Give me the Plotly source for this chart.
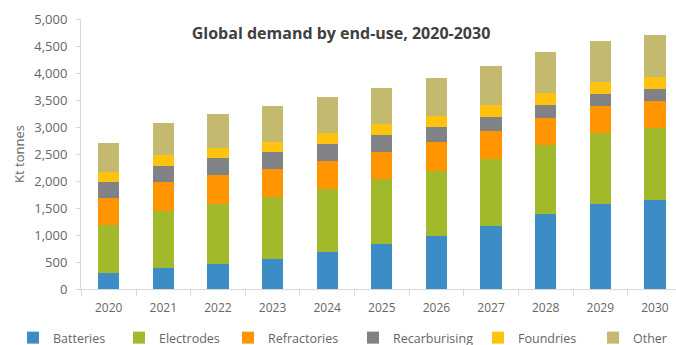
import plotly.graph_objects as go

years = ["2020", "2021", "2022", "2023", "2024", "2025", "2026", "2027", "2028", "2029", "2030"]
batteries = [300, 380, 460, 560, 685, 835, 975, 1160, 1380, 1580, 1655]
electrodes = [885, 1070, 1110, 1135, 1165, 1200, 1215, 1255, 1280, 1310, 1325]
refractories = [500, 525, 540, 530, 525, 510, 530, 520, 505, 505, 495]
recarburising = [300, 310, 310, 310, 315, 305, 280, 255, 250, 220, 235]
foundries = [175, 190, 200, 195, 200, 200, 195, 210, 215, 215, 215]
other = [545, 605, 615, 650, 660, 680, 715, 730, 750, 765, 785]

series = [
    ("Batteries", batteries, "#3c8dc5"),
    ("Electrodes", electrodes, "#a2b92b"),
    ("Refractories", refractories, "#ff9500"),
    ("Recarburising", recarburising, "#808286"),
    ("Foundries", foundries, "#ffc20e"),
    ("Other", other, "#c3b96f"),
]
# legend entry positions (left of swatch, px)
legend_left = [32, 138, 247, 372, 497, 612]

font = "Open Sans, sans-serif"
fig = go.Figure()
layout_legends = {}
for i, ((name, vals, color), lx) in enumerate(zip(series, legend_left)):
    key = "legend" if i == 0 else f"legend{i + 1}"
    fig.add_trace(go.Bar(
        name=name, x=years, y=vals, marker=dict(color=color, line=dict(width=0)),
        width=0.39, legend=key,
    ))
    layout_legends[key] = dict(
        orientation="h", xref="container", yref="container",
        x=(lx - 19) / 676, y=7 / 345, xanchor="left", yanchor="middle",
        font=dict(size=12.5, color="#666666", family=font),
        itemwidth=30, bgcolor="rgba(0,0,0,0)", borderwidth=0,
    )

fig.update_layout(
    barmode="stack",
    width=676, height=345,
    margin=dict(l=81, r=0, t=19, b=56),
    paper_bgcolor="white", plot_bgcolor="white",
    font=dict(family=font, color="#666666", size=12),
    title=dict(text="<b>Global demand by end-use, 2020-2030</b>", x=341 / 676, xanchor="center",
               y=1 - 33 / 345, yanchor="middle", font=dict(size=16, color="#404040", family=font)),
    showlegend=True,
    xaxis=dict(type="category", range=[-0.507, 10.385], showline=True, linecolor="#d9d9d9",
               ticks="outside", tickson="boundaries", ticklen=6, tickcolor="#d9d9d9",
               ticklabelstandoff=8,
               showgrid=False, tickfont=dict(size=12, color="#666666")),
    yaxis=dict(range=[0, 5000], tickvals=list(range(0, 5001, 500)), tickformat=",",
               showline=True, linecolor="#d9d9d9", ticks="outside", ticklen=4, tickcolor="#d9d9d9",
               ticklabelstandoff=6,
               showgrid=False, zeroline=False, tickfont=dict(size=13, color="#666666"),
               title=dict(text="Kt tonnes", standoff=6, font=dict(size=13, color="#666666"))),
    **layout_legends,
)

fig.write_html("out.html")
